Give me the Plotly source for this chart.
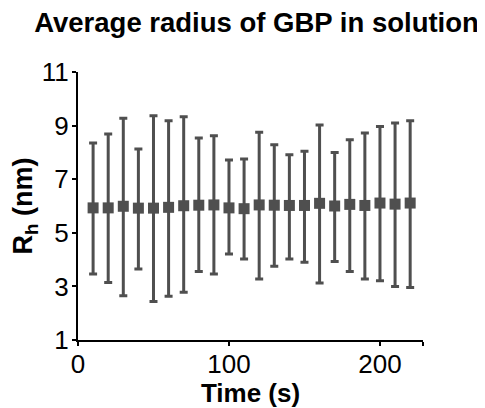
import plotly.graph_objects as go

time_s = [10, 20, 30, 40, 50, 60, 70, 80, 90, 100, 110,
          120, 130, 140, 150, 160, 170, 180, 190, 200, 210, 220]
radius_nm = [5.93, 5.93, 5.99, 5.92, 5.92, 5.95, 6.01, 6.03, 6.04, 5.93, 5.90,
             6.04, 6.03, 6.02, 6.02, 6.10, 6.00, 6.06, 6.02, 6.11, 6.07, 6.11]
upper_nm = [8.35, 8.69, 9.27, 8.13, 9.37, 9.18, 9.33, 8.54, 8.62, 7.72, 7.75,
            8.75, 8.29, 7.91, 8.04, 9.02, 8.00, 8.47, 8.72, 8.97, 9.10, 9.18]
lower_nm = [3.46, 3.15, 2.65, 3.65, 2.44, 2.63, 2.78, 3.56, 3.46, 4.21, 4.02,
            3.28, 3.75, 4.02, 3.90, 3.13, 3.93, 3.56, 3.28, 3.21, 3.00, 2.96]

err_plus = [u - m for u, m in zip(upper_nm, radius_nm)]
err_minus = [m - l for m, l in zip(radius_nm, lower_nm)]

y_ticks = [1, 3, 5, 7, 9, 11]
x_ticks = [0, 100, 200, 228.5]
x_ticktext = ["0", "100", "200", ""]

gray = "#4f4f4f"
font_family = "Liberation Sans, Arial, sans-serif"

fig = go.Figure()
fig.add_trace(go.Scatter(
    x=time_s, y=radius_nm, mode="markers",
    marker=dict(symbol="square", size=11, color=gray),
    error_y=dict(type="data", symmetric=False, array=err_plus, arrayminus=err_minus,
                 color=gray, thickness=3, width=4),
    showlegend=False,
))

# page has an 8px body margin; figure sized to fit the 485x408 window
fig.update_layout(
    width=477, height=400,
    margin=dict(l=70, r=62, t=64, b=68),
    paper_bgcolor="white", plot_bgcolor="white",
    font=dict(family=font_family, color="black", size=26),
    title=dict(text="<b>Average radius of GBP in solution</b>",
               x=0.521, xanchor="center", xref="container",
               y=0.965, yanchor="middle", yref="container",
               font=dict(size=27.5, color="black", family=font_family)),
)
fig.update_xaxes(
    range=[0, 228.5], tickvals=x_ticks, ticktext=x_ticktext,
    showline=True, linecolor="black", linewidth=2,
    ticks="outside", ticklen=4, tickwidth=2, tickcolor="black",
    showgrid=False, zeroline=False, automargin=False,
    tickfont=dict(size=26), ticklabelstandoff=-4,
    title=dict(text="<b>Time (s)</b>", font=dict(size=26), standoff=9),
)
fig.update_yaxes(
    range=[1, 11], tickvals=y_ticks,
    showline=True, linecolor="black", linewidth=2,
    ticks="outside", ticklen=4, tickwidth=2, tickcolor="black",
    showgrid=False, zeroline=False, automargin=False,
    tickfont=dict(size=26), ticklabelstandoff=-2,
    title=dict(text="<b>R<sub>h</sub> (nm)</b>", font=dict(size=27), standoff=2),
)

fig.write_html("out.html")
